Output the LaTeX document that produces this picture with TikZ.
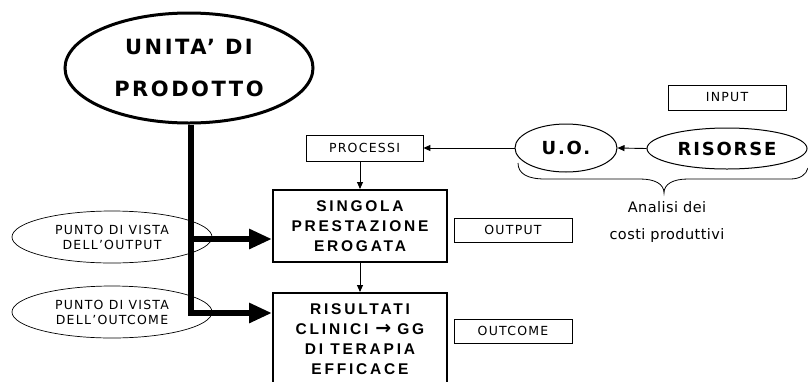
\documentclass[tikz,border=0pt]{standalone}
\usepackage{fontspec}
\usetikzlibrary{arrows.meta,shapes.geometric,calc}

% Font families (letter-spaced where the labels are expanded)
\newfontfamily\smallfont[LetterSpace=10]{DejaVu Sans}
\newfontfamily\headfont[LetterSpace=12]{DejaVu Sans}
\newfontfamily\unitfont[LetterSpace=10]{DejaVu Sans}
\newfontfamily\boxfont[LetterSpace=18]{Liberation Sans}
\newfontfamily\notefont[LetterSpace=3]{DejaVu Sans}
\newfontfamily\symfont{DejaVu Sans}

\tikzset{
  tagbox/.style={draw, line width=0.8pt, minimum width=118pt, minimum height=25pt,
    inner sep=0pt, font=\smallfont\fontsize{12.5}{15}\selectfont},
  mainbox/.style={draw, line width=2pt, minimum width=174pt, inner sep=0pt,
    align=center, font=\boxfont\bfseries\fontsize{15.5}{20}\selectfont},
  viewpoint/.style={ellipse, draw, line width=0.7pt, minimum width=200pt,
    minimum height=52pt, inner sep=0pt, align=center,
    font=\smallfont\fontsize{12.5}{15}\selectfont},
  unitoval/.style={ellipse, draw, line width=1pt, inner sep=0pt,
    font=\unitfont\bfseries\fontsize{18}{20}\selectfont},
  headoval/.style={ellipse, draw, line width=3pt, minimum width=248pt,
    minimum height=110pt, inner sep=0pt, align=center,
    font=\headfont\bfseries\fontsize{21}{42}\selectfont},
  note/.style={anchor=base, inner sep=0pt, font=\notefont\fontsize{14.5}{27}\selectfont},
  flow/.style={line width=0.9pt, -{Triangle[length=7pt,width=6pt]}},
  trunk/.style={line width=6.5pt, line join=miter,
    -{Triangle[length=23pt,width=19pt]}},
}

\begin{document}
\begin{tikzpicture}[x=1pt,y=-1pt]
  \useasboundingbox (0,0) rectangle (808,381);

  % main concept
  \node[headoval] (uni) at (189,68) {UNITA’ DI\\PRODOTTO};

  % boxes of the central column
  \node[tagbox, minimum width=117pt, minimum height=26pt] (processi) at (364.5,148) {PROCESSI};
  \node[mainbox, minimum height=72pt] (singola) at (360,226)
    {SINGOLA\\PRESTAZIONE\\EROGATA};
  \node[mainbox, minimum height=92pt, text depth=0pt] (risultati) at (360,339)
    {RISULTATI\\CLINICI\hspace{7pt}{\symfont\bfseries\fontsize{19}{20}\selectfont→}\hspace{6pt}GG\\DI TERAPIA\\EFFICACE};

  % labels on the right of the column
  \node[tagbox, minimum height=24pt] (output) at (513,230) {OUTPUT};
  \node[tagbox, minimum height=24pt] (outcome) at (513,331) {OUTCOME};
  \node[tagbox] (input) at (727,97.5) {INPUT};

  % resources side
  \node[unitoval, minimum width=102pt, minimum height=48pt] (uo) at (566,148) {U.O.};
  \node[unitoval, minimum width=160pt, minimum height=41pt] (risorse) at (727,148.5) {RISORSE};

  % points of view
  \node[viewpoint] (pvout) at (112,237) {PUNTO DI VISTA\\DELL’OUTPUT};
  \node[viewpoint] (pvoutc) at (112,312) {PUNTO DI VISTA\\DELL’OUTCOME};

  % brace under the resources and its caption
  \draw[line width=0.8pt] (518,163) .. controls (518,174) and (528,179) .. (545,179)
    -- (640,179) .. controls (655,179) and (664,184) .. (664,193)
    .. controls (664,184) and (673,179) .. (688,179)
    -- (790,179) .. controls (800,179) and (806,175) .. (808,168);
  \node[note] (costa) at (667,212) {Analisi dei};
  \node[note] (costb) at (667,239) {costi produttivi};

  % thin flow arrows
  \draw[flow] (risorse.west) -- (uo.east);
  \draw[flow] (processi.east -| uo.west) -- (processi.east);
  \draw[flow] (singola.north |- processi.south) -- (singola.north);
  \draw[flow] (singola.south) -- (risultati.north);

  % thick trunk from the main concept
  \coordinate (j1) at (191,239);
  \coordinate (j2) at (191,313);
  \draw[trunk] (j2 |- uni.south) -- (j2) -- (j2 -| risultati.west);
  \draw[trunk] (j1) -- (j1 -| singola.west);
\end{tikzpicture}
\end{document}
